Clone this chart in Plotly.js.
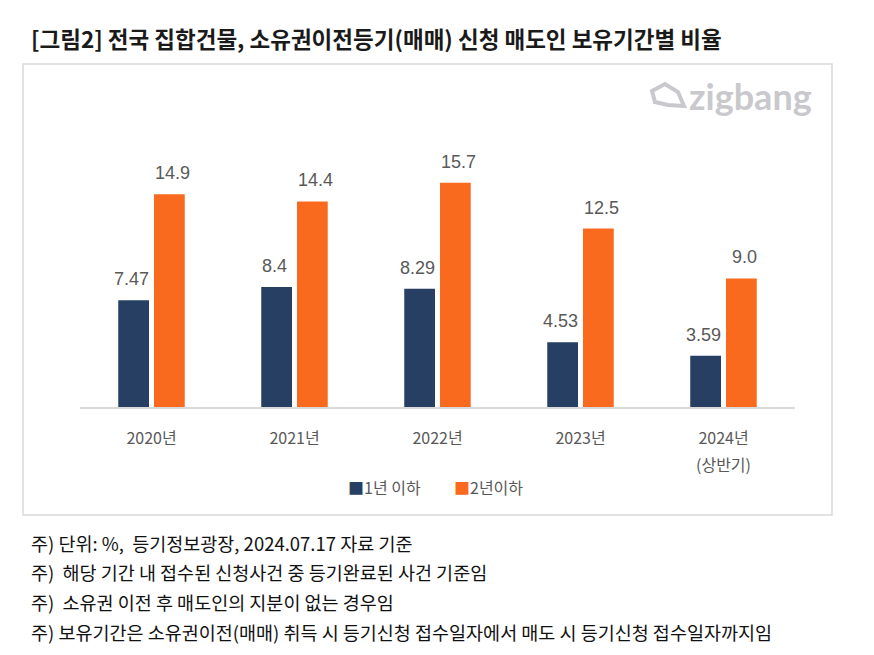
<!DOCTYPE html>
<html>
<head>
<meta charset="utf-8">
<script src="https://cdn.plot.ly/plotly-3.0.1.min.js"></script>
<style>html,body{margin:0;padding:0;background:#fff;}#chart{width:874px;height:655px;}</style>
</head>
<body>
<div id="chart"></div>
<script>
const categories = ['2020년', '2021년', '2022년', '2023년', '2024년'];
const subLabels = ['', '', '', '', '(상반기)'];
const seriesNames = ['1년 이하', '2년이하'];
const under1y = [7.47, 8.4, 8.29, 4.53, 3.59];
const under2y = [14.9, 14.4, 15.7, 12.5, 9.0];
const under1yLabels = ['7.47', '8.4', '8.29', '4.53', '3.59'];
const under2yLabels = ['14.9', '14.4', '15.7', '12.5', '9.0'];
const titleText = '[그림2] 전국 집합건물, 소유권이전등기(매매) 신청 매도인 보유기간별 비율';
const notes = [
  '주) 단위: %,  등기정보광장, 2024.07.17 자료 기준',
  '주)  해당 기간 내 접수된 신청사건 중 등기완료된 사건 기준임',
  '주)  소유권 이전 후 매도인의 지분이 없는 경우임',
  '주) 보유기간은 소유권이전(매매) 취득 시 등기신청 접수일자에서 매도 시 등기신청 접수일자까지임'
];

const W = 874, H = 655;
const L = 80, R = 795, T = 100, B = 407;
const px = x => (x - L) / (R - L);
const py = y => (B - y) / (B - T);
const FONT = 'Noto Sans CJK KR, Noto Sans, sans-serif';
const NAVY = '#263F63', ORANGE = '#FA6A1E', GRAY = '#595959';

const traces = [
  {type: 'bar', name: seriesNames[0], x: categories, y: under1y, marker: {color: NAVY}, hoverinfo: 'none', showlegend: false},
  {type: 'bar', name: seriesNames[1], x: categories, y: under2y, marker: {color: ORANGE}, hoverinfo: 'none', showlegend: false}
];

const labelFont = {family: 'Liberation Sans, Arial, sans-serif', size: 18, color: GRAY};
const annotations = [];
categories.forEach((c, i) => {
  annotations.push({x: c, y: under1y[i], xref: 'x', yref: 'y', text: under1yLabels[i], showarrow: false,
    xshift: -20.5, yshift: 9, yanchor: 'bottom', font: labelFont});
  annotations.push({x: c, y: under2y[i], xref: 'x', yref: 'y', text: under2yLabels[i], showarrow: false,
    xshift: 20.5, yshift: 9, yanchor: 'bottom', font: labelFont});
  if (subLabels[i]) {
    annotations.push({x: c, y: py(464), xref: 'x', yref: 'paper', text: subLabels[i], showarrow: false,
      yanchor: 'middle', font: {family: FONT, size: 16, color: GRAY}});
  }
});
annotations.push({xref: 'paper', yref: 'paper', x: px(29), y: py(38), xanchor: 'left', yanchor: 'middle',
  text: '<b>' + titleText + '</b>', showarrow: false, font: {family: FONT, size: 22.5, color: '#1a1a1a'}});
const noteY = [543, 572, 602, 632];
notes.forEach((t, i) => annotations.push({xref: 'paper', yref: 'paper', x: px(29), y: py(noteY[i]), xanchor: 'left', yanchor: 'middle',
  text: t, showarrow: false, font: {family: FONT, size: 18.5, color: '#111'}}));
annotations.push({xref: 'paper', yref: 'paper', x: px(687), y: py(96), xanchor: 'left', yanchor: 'middle',
  text: '<b>zigbang</b>', showarrow: false, font: {family: 'Lato, Inter, sans-serif', size: 36, color: '#C9C9CD'}});
annotations.push({xref: 'paper', yref: 'paper', x: px(346), y: py(487), xanchor: 'left', yanchor: 'middle', showarrow: false,
  text: '<span style="color:' + NAVY + '">■</span>' + seriesNames[0], font: {family: FONT, size: 16, color: GRAY}});
annotations.push({xref: 'paper', yref: 'paper', x: px(452), y: py(487), xanchor: 'left', yanchor: 'middle', showarrow: false,
  text: '<span style="color:' + ORANGE + '">■</span>' + seriesNames[1], font: {family: FONT, size: 16, color: GRAY}});

const shapes = [
  {type: 'rect', xref: 'paper', yref: 'paper', x0: px(23), x1: px(832), y0: py(64), y1: py(515), line: {color: '#D9D9D9', width: 1.5}, layer: 'below'},
  {type: 'path', xref: 'paper', yref: 'paper',
    path: 'M ' + px(652) + ',' + py(91) + ' L ' + px(665) + ',' + py(84) + ' L ' + px(678) + ',' + py(92) +
          ' L ' + px(684) + ',' + py(106) + ' L ' + px(668) + ',' + py(105) + ' L ' + px(655) + ',' + py(102) + ' Z',
    line: {color: '#C9C9CD', width: 4}, fillcolor: 'rgba(0,0,0,0)'}
];

const layout = {
  width: W, height: H,
  margin: {l: L, r: W - R, t: T, b: H - B},
  paper_bgcolor: '#fff', plot_bgcolor: '#fff',
  barmode: 'group', bargap: 0.5, bargroupgap: 0.14,
  xaxis: {showgrid: false, zeroline: false, showline: true, linecolor: '#D9D9D9', linewidth: 1.5,
    ticks: '', ticklabelstandoff: 16, tickfont: {family: FONT, size: 16, color: GRAY}, fixedrange: true},
  yaxis: {range: [0, 21.5], showgrid: false, zeroline: false, showline: false, showticklabels: false, fixedrange: true},
  showlegend: false,
  annotations: annotations,
  shapes: shapes
};

Plotly.newPlot('chart', traces, layout, {displayModeBar: false, staticPlot: true});
</script>
</body>
</html>
